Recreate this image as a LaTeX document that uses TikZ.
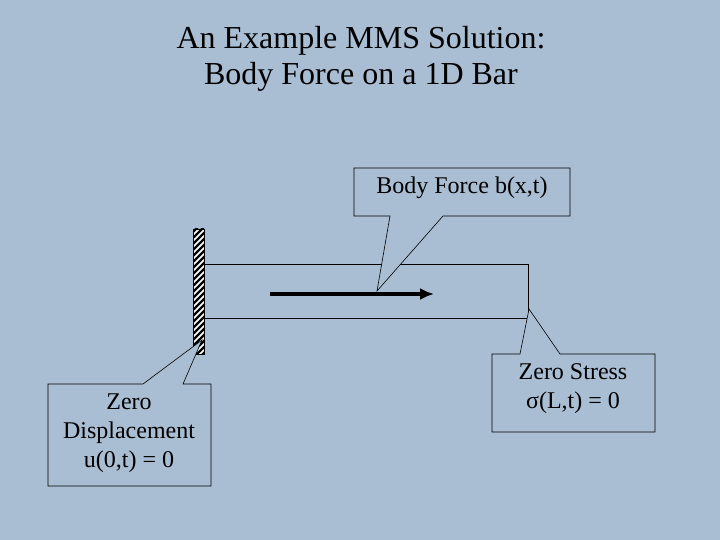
\documentclass[tikz,border=0pt]{standalone}
\usepackage{fontspec}
\setmainfont{Liberation Serif}
\usetikzlibrary{arrows.meta}
\definecolor{bg}{HTML}{A9BED3}
\begin{document}
\begin{tikzpicture}[x=1pt,y=-1pt,
  call/.style={draw=black,line width=0.6pt,fill=bg},
  lbl/.style={font=\fontsize{24}{29}\selectfont,align=center,inner sep=0pt}]
\fill[bg] (0,0) rectangle (720,540);
\useasboundingbox (0,0) rectangle (720,540);
\node[font=\fontsize{32}{36}\selectfont,align=center] (title) at (361,59) {An Example MMS Solution:\\Body Force on a 1D Bar};
% bar
\draw[line width=0.6pt] (204,264) rectangle (528,318);
\draw[line width=4pt,-{Latex[length=14pt,width=12pt]}] (270,294) -- (434,294);
% wall
\fill[white] (193,229) rectangle (204,354);
\begin{scope}
\clip (193,229) rectangle (204,354);
\foreach \i in {0,6,...,150} \draw[line width=2.2pt] (190,229+\i) -- (208,229+\i-18);
\end{scope}
\draw[line width=0.8pt] (193,229) rectangle (204,354);
% callouts
\draw[call] (354,168) -- (570,168) -- (570,216) -- (443,216) -- (377,291) -- (390,216) -- (354,216) -- cycle;
\node[lbl] (bf) at (462,188) {Body Force b(x,t)};
\draw[call] (492,354) -- (520,354) -- (529,309) -- (560,354) -- (655,354) -- (655,432) -- (492,432) -- cycle;
\node[lbl] (zs) at (573,389) {Zero Stress\\σ(L,t) = 0};
\draw[call] (48,384) -- (143,384) -- (202,340) -- (183,384) -- (211,384) -- (211,486) -- (48,486) -- cycle;
\node[lbl,align=center] (zd) at (129,433) {Zero\\Displacement\\u(0,t) = 0};
\end{tikzpicture}
\end{document}
